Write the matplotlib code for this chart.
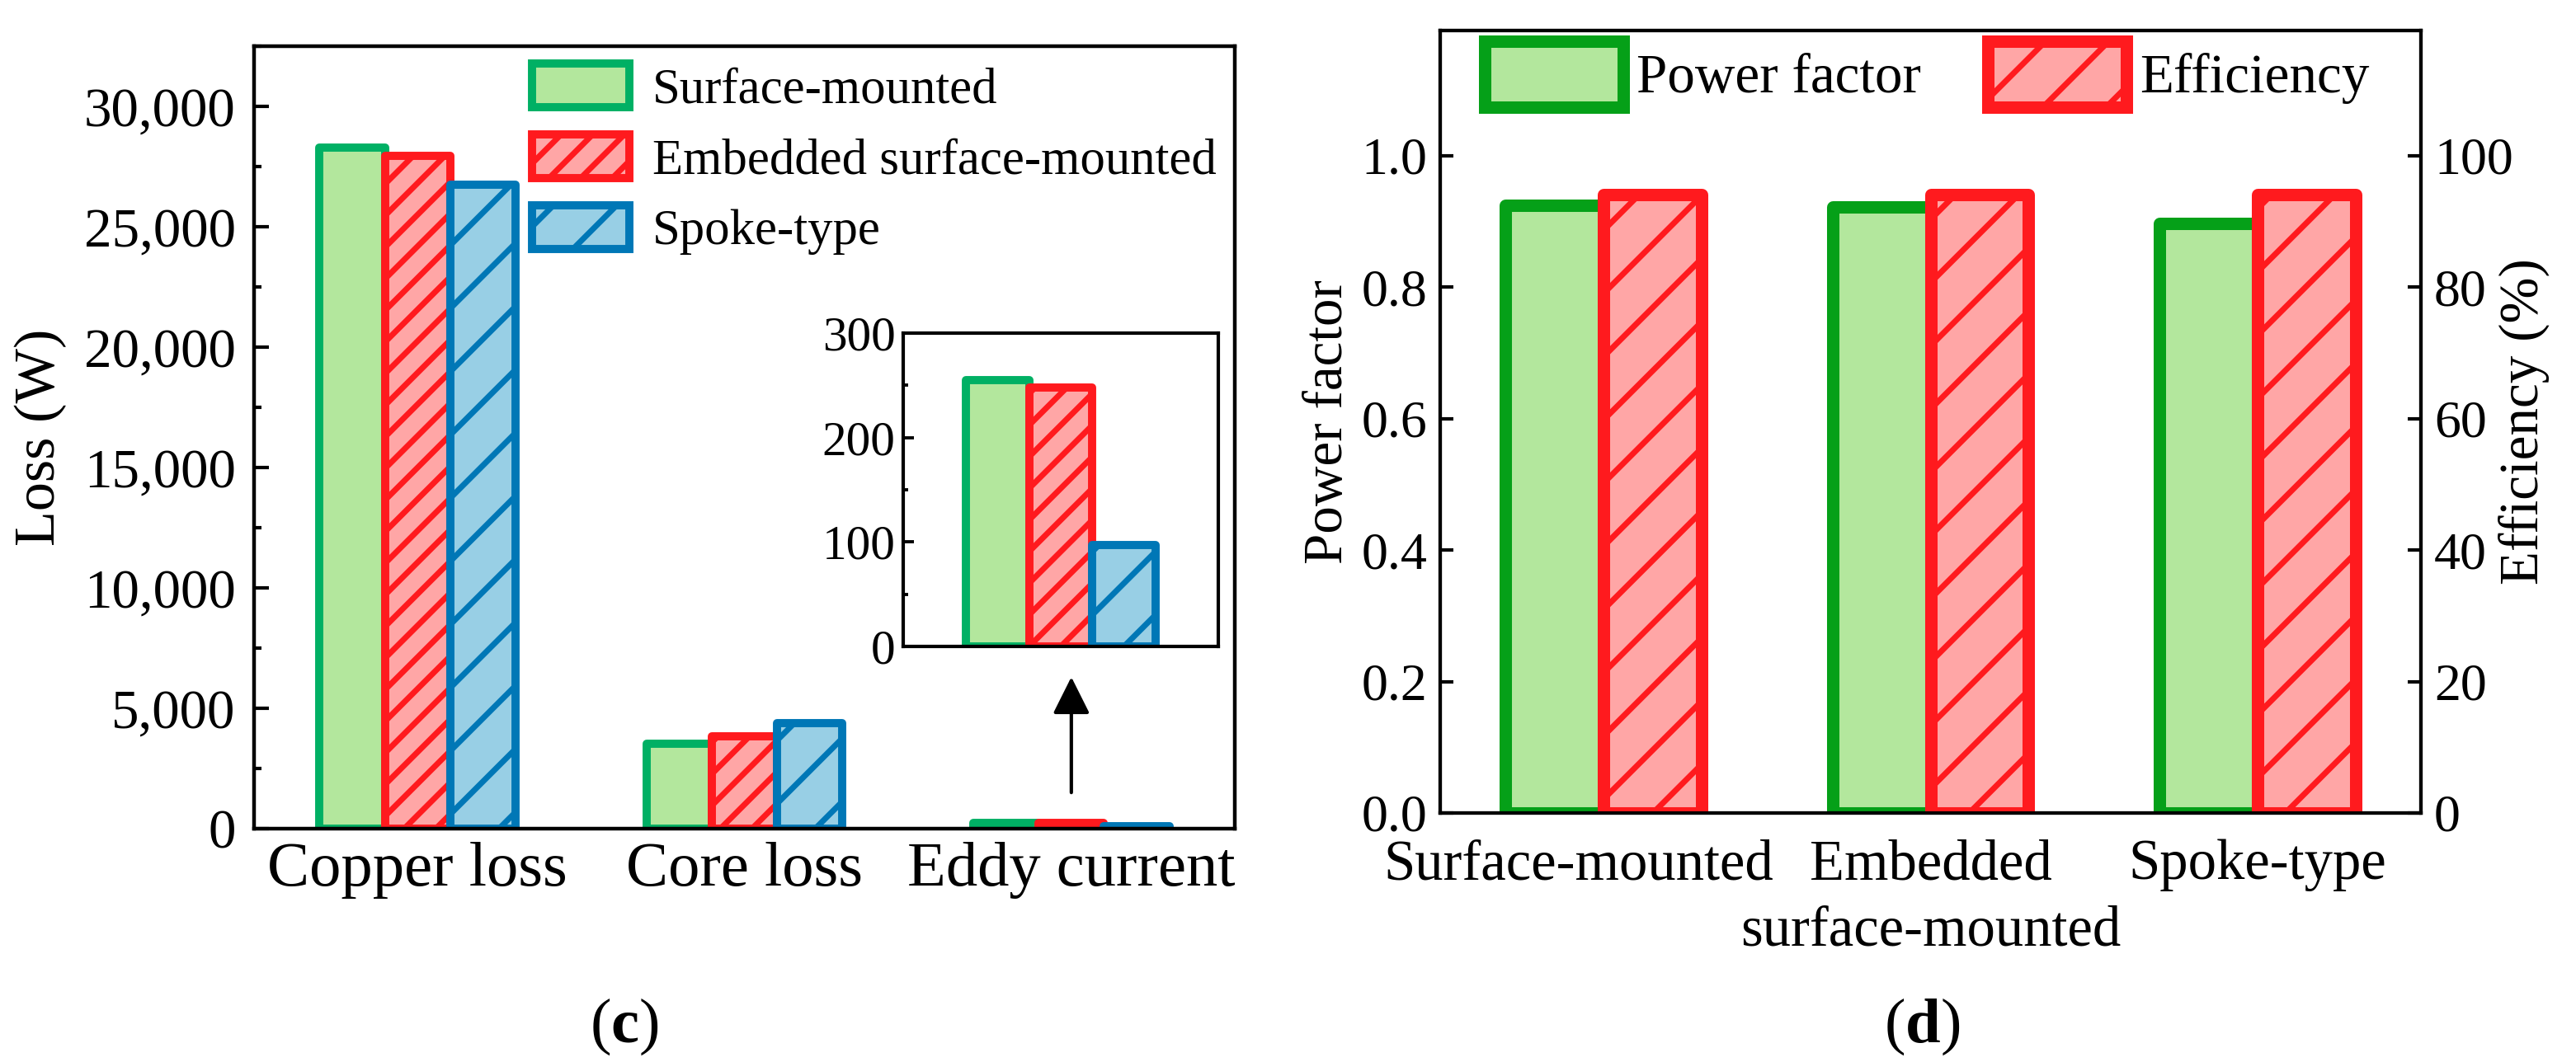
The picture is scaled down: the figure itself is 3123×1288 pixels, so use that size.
import numpy as np
import matplotlib
matplotlib.use("Agg")
import matplotlib.pyplot as plt
import matplotlib.transforms as mtrans
from matplotlib.ticker import MultipleLocator, FuncFormatter

# ---------------- data ----------------
loss_categories = ["Copper loss", "Core loss", "Eddy current"]
loss_series = ["Surface-mounted", "Embedded surface-mounted", "Spoke-type"]
loss_surface = [28290, 3520, 255]
loss_embedded = [27950, 3820, 248]
loss_spoke = [26750, 4400, 97]

motor_types = ["Surface-mounted", "Embedded\nsurface-mounted", "Spoke-type"]
power_factor = [0.924, 0.922, 0.897]
efficiency = [94.0, 94.0, 94.0]

# ---------------- style ----------------
W, H, DPI = 3123, 1288, 230
plt.rcParams["font.family"] = ["Liberation Serif", "DejaVu Serif"]
plt.rcParams["mathtext.fontset"] = "custom"
plt.rcParams["mathtext.rm"] = "Liberation Serif"
plt.rcParams["mathtext.bf"] = "Liberation Serif:bold"
plt.rcParams["hatch.linewidth"] = 2.2

GF = "#b3e79d"
GE_L = "#00b064"
GE_R = "#05a018"
RF = "#ffa6a6"
RE = "#ff1a1e"
BF = "#98cfe5"
BE = "#0077b6"


def px_rect(l, t, r, b):
    return [l / W, 1 - b / H, (r - l) / W, (b - t) / H]


fig = plt.figure(figsize=(W / DPI, H / DPI), dpi=DPI)

# ================= panel (c) =================
ax1 = fig.add_axes(px_rect(308, 56, 1497, 1005))
x = np.arange(len(loss_categories))
bw = 0.2
series = [loss_surface, loss_embedded, loss_spoke]
styles = [
    dict(facecolor=GF, edgecolor=GE_L),
    dict(facecolor=RF, edgecolor=RE, hatch="//"),
    dict(facecolor=BF, edgecolor=BE, hatch="/"),
]
for k, (vals, st, lab) in enumerate(zip(series, styles, loss_series)):
    ax1.bar(x + (k - 1) * bw, vals, bw, label=lab, linewidth=3.1,
            joinstyle="round", **st)

ax1.set_xlim(-0.5, 2.5)
ax1.set_ylim(0, 32500)
ax1.set_xticks(x)
ax1.set_xticklabels(loss_categories, fontsize=24)
ax1.yaxis.set_major_locator(MultipleLocator(5000))
ax1.yaxis.set_minor_locator(MultipleLocator(2500))
ax1.yaxis.set_major_formatter(FuncFormatter(lambda v, p: f"{v:,.0f}"))
ax1.tick_params(axis="y", which="major", direction="in", length=5.5, width=1.3,
                labelsize=21, pad=7)
ax1.tick_params(axis="y", which="minor", direction="in", length=2.8, width=1.3)
ax1.tick_params(axis="x", length=0, pad=5)
for s in ax1.spines.values():
    s.set_linewidth(1.4)
ax1.set_ylabel("Loss (W)", fontsize=22)
ax1.yaxis.set_label_coords(-0.191, 0.5)

ax1.legend(loc="upper left", bbox_to_anchor=(645 / W, 1 - 77 / H),
           bbox_transform=fig.transFigure, frameon=False, fontsize=19,
           handlelength=1.95, handleheight=0.97, handletextpad=0.45,
           labelspacing=0.42, borderpad=0, borderaxespad=0)

ax1.annotate("", xy=(2.0, 6300), xytext=(2.0, 1500),
             arrowprops=dict(arrowstyle="-|>", color="black", lw=1.3,
                             mutation_scale=30, shrinkA=0, shrinkB=0))

# inset
axin = fig.add_axes(px_rect(1095, 404, 1477, 784))
for k, (vals, st) in enumerate(zip(series, styles)):
    axin.bar(x + (k - 1) * bw, vals, bw, linewidth=3.1, joinstyle="round", **st)
axin.set_xlim(1.5, 2.5)
axin.set_ylim(0, 300)
axin.set_xticks([])
axin.yaxis.set_major_locator(MultipleLocator(100))
axin.yaxis.set_minor_locator(MultipleLocator(50))
axin.tick_params(axis="y", which="major", direction="in", length=4, width=1.2,
                 labelsize=18.5, pad=3)
axin.tick_params(axis="y", which="minor", direction="in", length=2, width=1.2)
for s in axin.spines.values():
    s.set_linewidth(1.3)

fig.text(757 / W, 1 - 1245 / H, r"($\mathbf{c}$)", ha="center", va="center",
         fontsize=24)

# ================= panel (d) =================
ax2 = fig.add_axes(px_rect(1746, 37, 2935, 986))
ax3 = ax2.twinx()
bw2 = 0.3
b_pf = ax2.bar(x - bw2 / 2, power_factor, bw2, facecolor=GF, edgecolor=GE_R,
               linewidth=4.7, joinstyle="round", label="Power factor")
b_ef = ax3.bar(x + bw2 / 2, efficiency, bw2, facecolor=RF, edgecolor=RE,
               linewidth=4.7, hatch="/", joinstyle="round", label="Efficiency")
ax2.set_xlim(-0.5, 2.5)
ax2.set_ylim(0, 1.19)
ax3.set_ylim(0, 119)
ax2.set_xticks(x)
ax2.set_xticklabels(motor_types, fontsize=21.5, linespacing=1.35)
ax2.tick_params(axis="x", length=0, pad=10)
# the first category label sits slightly to the left in the reference
lbl0 = ax2.get_xticklabels()[0]
lbl0.set_transform(lbl0.get_transform() +
                   mtrans.ScaledTranslation(-30 / DPI, 0, fig.dpi_scale_trans))
ax2.yaxis.set_major_locator(MultipleLocator(0.2))
ax2.yaxis.set_major_formatter(FuncFormatter(lambda v, p: f"{v:.1f}"))
ax3.yaxis.set_major_locator(MultipleLocator(20))
ax2.tick_params(axis="y", direction="in", length=5, width=1.3, labelsize=20,
                pad=5)
ax3.tick_params(axis="y", direction="in", length=5, width=1.3, labelsize=20,
                pad=5)
for a in (ax2, ax3):
    for s in a.spines.values():
        s.set_linewidth(1.3)
ax2.set_ylabel("Power factor", fontsize=21)
ax2.yaxis.set_label_coords(-0.088, 0.5)
ax3.set_ylabel("Efficiency (%)", fontsize=21)
ax3.yaxis.set_label_coords(1.079, 0.5)

ax3.legend([b_pf, b_ef], ["Power factor", "Efficiency"], loc="upper left",
           bbox_to_anchor=(1800 / W, 1 - 50 / H), bbox_transform=fig.transFigure,
           ncol=2, frameon=False, fontsize=21, handlelength=2.5,
           handleheight=1.45, handletextpad=0.25, columnspacing=1.2,
           borderpad=0, borderaxespad=0)

fig.text(2330 / W, 1 - 1245 / H, r"($\mathbf{d}$)", ha="center", va="center",
         fontsize=24)

fig.savefig("out.png", dpi=DPI)
